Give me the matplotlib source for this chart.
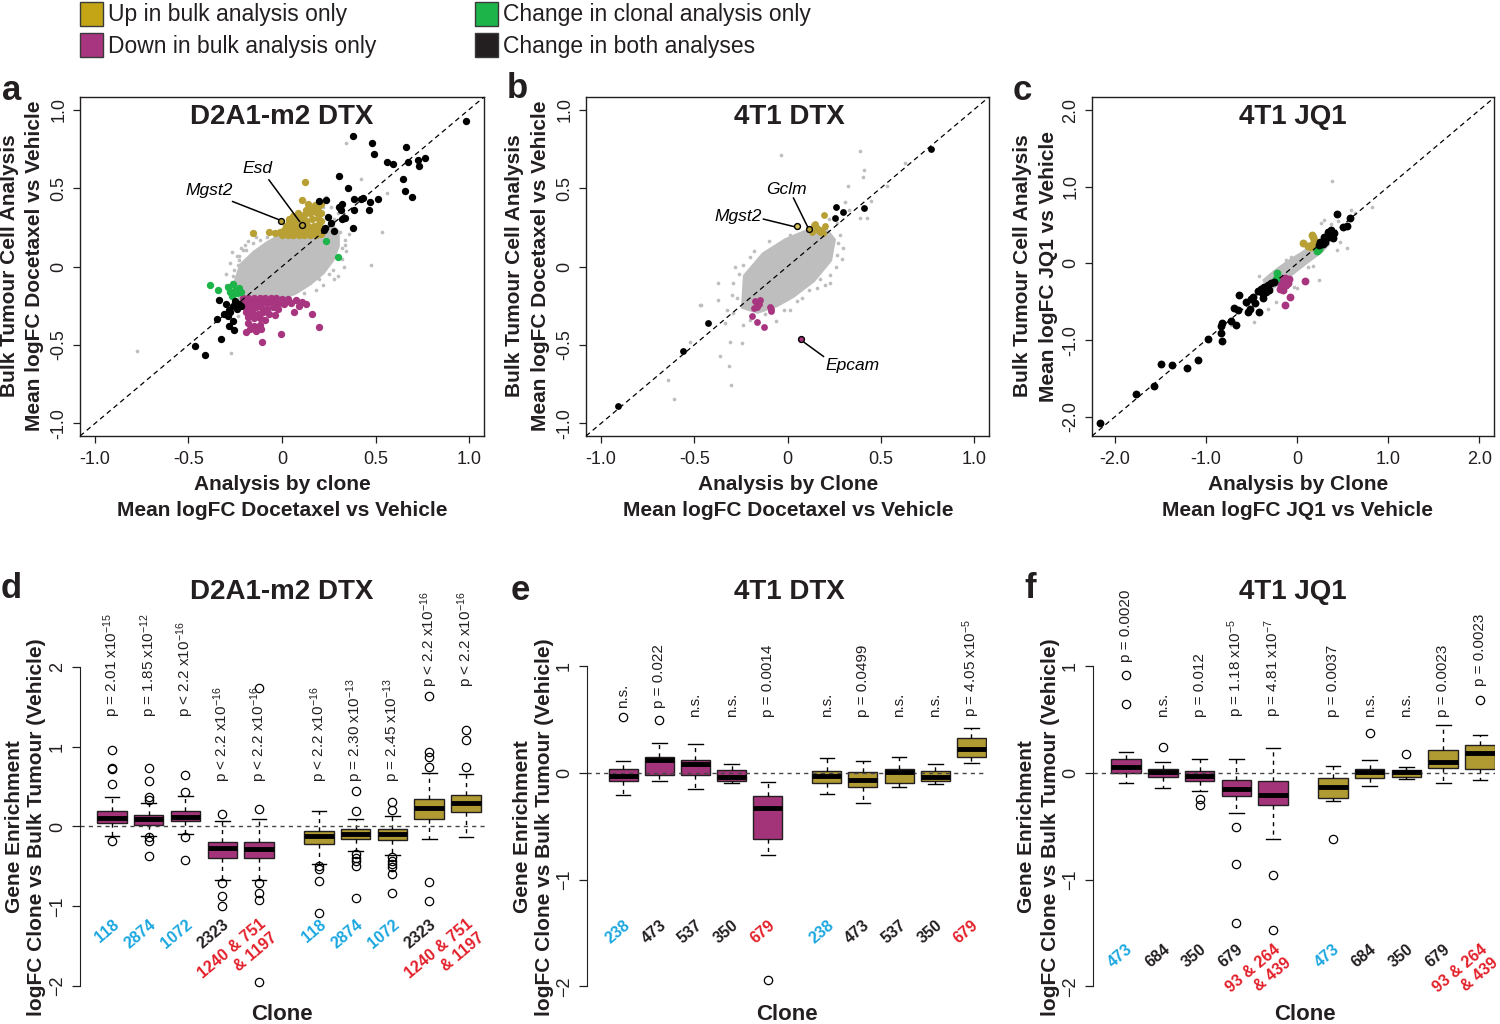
import matplotlib
matplotlib.use("Agg")
import matplotlib.pyplot as plt
from matplotlib.patches import Rectangle, Polygon
from matplotlib import font_manager

plt.rcParams['font.family'] = ['Liberation Sans', 'DejaVu Sans']
plt.rcParams['mathtext.fontset'] = 'custom'
plt.rcParams['mathtext.rm'] = 'Liberation Sans'
plt.rcParams['mathtext.it'] = 'Liberation Sans:italic'
plt.rcParams['mathtext.bf'] = 'Liberation Sans:bold'

# ---------------- data: scatter panels (a, b, c) ----------------
# dense grey core of each cloud (outline) + the scattered grey genes around it
a_core_x = [-0.22, -0.25, -0.22, -0.15, -0.08, -0.02, 0.06, 0.14, 0.21, 0.26, 0.30, 0.30, 0.27, 0.22, 0.15, 0.07, 0.00, -0.10, -0.19]
a_core_y = [-0.22, -0.10, 0.01, 0.09, 0.15, 0.19, 0.20, 0.20, 0.22, 0.27, 0.22, 0.13, 0.04, -0.04, -0.11, -0.17, -0.20, -0.21, -0.22]
a_gray = [(-0.773, -0.541), (-0.272, -0.55), (0.344, 0.786), (0.425, 0.557), (0.559, 0.471), (0.535, 0.217),
          (0.475, 0.01), (0.339, 0.134), (0.30, -0.06), (0.22, 0.38), (0.264, 0.382), (0.237, 0.446),
          (-0.237, -0.318), (-0.228, 0.043), (-0.192, 0.106), (-0.237, 0.01), (-0.174, -0.074), (0.094, -0.085),
          (0.13, -0.042), (0.165, 0.0), (0.058, -0.127), (0.004, -0.159), (-0.228, 0.064), (-0.255, -0.021),
          (-0.21, 0.106), (-0.157, 0.149), (-0.14, 0.19), (0.32, 0.12), (0.335, 0.17), (0.28, 0.30), (0.30, 0.34),
          (0.26, 0.25), (0.31, 0.22), (0.32, 0.05), (0.25, -0.05), (0.20, -0.08), (-0.26, -0.06), (-0.27, -0.10),
          (-0.24, 0.07), (-0.30, -0.05), (0.10, -0.13), (0.15, -0.09), (-0.12, 0.17), (-0.08, 0.19), (0.24, 0.12),
          (-0.20, 0.14), (-0.30, -0.12), (-0.28, 0.02), (-0.18, 0.16), (0.34, 0.10), (0.33, 0.0), (0.28, -0.08),
          (0.22, -0.12), (0.18, -0.15), (0.12, -0.17), (-0.27, 0.09), (-0.22, 0.12), (0.36, 0.21), (0.27, -0.02)]
a_gold = [(0.124, 0.541), (-0.153, 0.213), (-0.07, 0.223), (-0.037, 0.213), (-0.013, 0.221), (0.04, 0.304),
          (0.105, 0.425), (0.14, 0.40), (0.174, 0.393), (0.088, 0.34),
          (0.00, 0.20), (0.03, 0.20), (0.06, 0.20), (0.09, 0.20), (0.12, 0.20), (0.15, 0.20), (0.18, 0.20), (0.21, 0.21),
          (0.01, 0.23), (0.04, 0.23), (0.07, 0.23), (0.10, 0.23), (0.13, 0.23), (0.16, 0.23), (0.19, 0.23), (0.22, 0.24),
          (0.02, 0.26), (0.05, 0.26), (0.08, 0.26), (0.11, 0.27), (0.14, 0.26), (0.17, 0.26), (0.20, 0.27),
          (0.04, 0.29), (0.07, 0.29), (0.10, 0.30), (0.13, 0.29), (0.16, 0.30), (0.19, 0.31), (0.21, 0.29),
          (0.06, 0.32), (0.09, 0.33), (0.12, 0.33), (0.15, 0.34), (0.18, 0.35), (0.16, 0.37), (0.19, 0.38), (0.21, 0.40),
          (0.13, 0.36), (0.21, 0.34)]
a_magenta = [(-0.21, -0.20), (-0.18, -0.20), (-0.15, -0.20), (-0.12, -0.20), (-0.09, -0.20), (-0.06, -0.20),
             (-0.03, -0.20), (0.00, -0.21), (0.03, -0.21),
             (-0.20, -0.23), (-0.17, -0.23), (-0.14, -0.23), (-0.11, -0.23), (-0.08, -0.23), (-0.05, -0.23),
             (-0.02, -0.24), (0.01, -0.24), (0.05, -0.23),
             (-0.20, -0.26), (-0.17, -0.26), (-0.14, -0.26), (-0.11, -0.26), (-0.08, -0.27), (-0.05, -0.26), (-0.02, -0.27),
             (-0.19, -0.29), (-0.16, -0.29), (-0.13, -0.30), (-0.10, -0.29), (-0.07, -0.30), (-0.04, -0.31),
             (-0.18, -0.32), (-0.15, -0.33), (-0.12, -0.33), (-0.09, -0.34),
             (-0.18, -0.36), (-0.15, -0.38), (-0.12, -0.37), (-0.17, -0.40), (-0.14, -0.41), (-0.11, -0.40), (-0.19, -0.42),
             (-0.108, -0.478), (-0.004, -0.43), (0.2, -0.386), (0.16, -0.30), (0.062, -0.29), (0.108, -0.229),
             (0.014, -0.22), (0.076, -0.212), (0.13, -0.238), (0.09, -0.25)]
a_green = [(-0.385, -0.12), (-0.34, -0.15), (-0.29, -0.13), (-0.26, -0.11), (-0.23, -0.14), (-0.24, -0.17),
           (-0.27, -0.19), (-0.22, -0.16), (-0.25, -0.15), (-0.28, -0.16), (0.233, 0.164), (0.30, 0.058)]
a_black = [(0.984, 0.924), (0.38, 0.83), (0.48, 0.79), (0.662, 0.764), (0.49, 0.72), (0.559, 0.669), (0.596, 0.652),
           (0.671, 0.665), (0.725, 0.68), (0.764, 0.694), (0.734, 0.641), (0.648, 0.557), (0.66, 0.478), (0.696, 0.446),
           (0.305, 0.578), (0.355, 0.499), (0.20, 0.417), (0.237, 0.423), (0.323, 0.40), (0.385, 0.429), (0.42, 0.43),
           (0.435, 0.435), (0.469, 0.414), (0.514, 0.429), (0.466, 0.361), (0.387, 0.361), (0.314, 0.361), (0.305, 0.38),
           (0.335, 0.308), (0.323, 0.30), (0.246, 0.318), (0.264, 0.276), (0.224, 0.234), (0.276, 0.227), (0.38, 0.248),
           (0.23, 0.245), (-0.412, -0.562), (-0.464, -0.505), (-0.326, -0.463), (-0.255, -0.403), (-0.282, -0.382),
           (-0.347, -0.335), (-0.29, -0.318), (-0.263, -0.35), (-0.335, -0.212), (-0.30, -0.237), (-0.282, -0.275),
           (-0.25, -0.22), (-0.23, -0.24), (-0.26, -0.25), (-0.24, -0.27), (-0.22, -0.25), (-0.28, -0.29), (-0.31, -0.30)]
a_genes = [("Mgst2", -0.004, 0.291), ("Esd", 0.108, 0.266)]

b_core_x = [-0.24, -0.23, -0.13, -0.01, 0.09, 0.21, 0.25, 0.23, 0.14, 0.03, -0.06, -0.16]
b_core_y = [-0.26, -0.06, 0.08, 0.17, 0.22, 0.23, 0.17, 0.04, -0.09, -0.19, -0.25, -0.29]
b_gray = [(-0.036, 0.711), (0.386, 0.733), (0.411, 0.616), (0.404, 0.573), (0.322, 0.51), (0.426, 0.308),
          (0.386, 0.308), (0.309, 0.414), (0.265, 0.276), (0.265, 0.075), (0.292, 0.047), (0.229, -0.053),
          (0.229, -0.106), (0.113, -0.148), (0.086, -0.106), (0.011, -0.276), (-0.061, -0.35), (-0.239, 0.011),
          (-0.29, -0.102), (-0.37, -0.102), (-0.37, -0.212), (-0.463, -0.244), (-0.325, -0.276), (-0.29, -0.297),
          (-0.334, -0.36), (-0.236, -0.371), (-0.245, -0.488), (-0.307, -0.478), (-0.361, -0.569), (-0.316, -0.632),
          (-0.303, -0.753), (-0.522, -0.478), (-0.638, -0.722), (-0.611, -0.845), (-0.271, -0.201), (-0.2, -0.34),
          (0.014, 0.202), (0.086, 0.22), (0.631, 0.659), (0.533, 0.51), (0.175, -0.08), (-0.02, -0.276),
          (-0.468, -0.244), (-0.28, 0.0), (-0.18, 0.10), (-0.10, 0.16), (0.28, 0.20), (0.30, 0.12), (0.20, -0.12),
          (0.05, -0.22), (-0.12, -0.30), (0.22, 0.30), (0.33, 0.36), (0.45, 0.42), (-0.26, -0.05), (-0.20, 0.06),
          (0.27, 0.15), (0.26, 0.0), (0.16, -0.14), (0.08, -0.20), (-0.30, -0.18)]
b_gold = [(0.198, 0.329), (0.202, 0.259), (0.14, 0.265), (0.158, 0.244), (0.175, 0.217), (0.131, 0.223),
          (0.147, 0.27), (0.18, 0.23), (0.165, 0.235), (0.19, 0.215)]
b_magenta = [(-0.173, -0.223), (-0.147, -0.212), (-0.182, -0.265), (-0.164, -0.255), (-0.093, -0.259),
             (-0.088, -0.286), (-0.191, -0.318), (-0.164, -0.354), (-0.125, -0.388), (-0.164, -0.23),
             (-0.155, -0.24), (-0.09, -0.27)]
b_green = []
b_black = [(-0.906, -0.887), (-0.561, -0.541), (-0.428, -0.357), (0.261, 0.376), (0.30, 0.35), (0.252, 0.308),
           (0.411, 0.372), (0.771, 0.748)]
b_genes = [("Mgst2", 0.05, 0.255), ("Gclm", 0.115, 0.238), ("Epcam", 0.073, -0.463)]

c_core_x = [-0.36, -0.25, -0.10, 0.05, 0.20, 0.30, 0.34, 0.26, 0.11, -0.04, -0.19, -0.31]
c_core_y = [-0.22, -0.11, 0.02, 0.13, 0.25, 0.31, 0.25, 0.15, 0.02, -0.12, -0.26, -0.34]
c_gray = [(0.379, 1.074), (0.592, 0.696), (0.64, 0.66), (0.818, 0.731), (0.475, 0.282), (0.544, 0.196),
          (0.44, 0.17), (0.3, 0.565), (0.26, 0.53), (0.37, 0.51), (0.244, -0.218), (-0.03, -0.305), (0.0, -0.32),
          (-0.23, -0.501), (-0.32, -0.59), (-0.468, -0.762), (-0.723, -0.805), (-0.413, -0.166), (-0.12, 0.043),
          (-0.07, 0.08), (0.06, 0.14), (0.171, -0.035), (0.12, -0.05), (-0.45, -0.40), (-0.40, -0.30),
          (0.42, 0.40), (0.45, 0.55), (0.10, 0.22), (-0.18, -0.05)]
c_gold = [(0.061, 0.269), (0.116, 0.226), (0.15, 0.22), (0.19, 0.261), (0.171, 0.347), (0.19, 0.31),
          (0.16, 0.37), (0.13, 0.23), (0.175, 0.25)]
c_magenta = [(-0.175, -0.218), (-0.132, -0.196), (-0.084, -0.209), (-0.175, -0.283), (-0.12, -0.283),
             (-0.158, -0.34), (-0.19, -0.33), (-0.1, -0.26), (-0.15, -0.25), (0.088, -0.227), (-0.077, -0.436),
             (-0.136, -0.544)]
c_green = [(-0.219, -0.131), (-0.23, -0.2), (0.219, 0.164), (0.24, 0.19)]
c_black = [(-2.167, -2.08), (-1.765, -1.706), (-1.571, -1.602), (-1.49, -1.306), (-1.37, -1.328), (-1.21, -1.363),
           (-1.082, -1.262), (-0.98, -0.979), (-0.822, -1.014), (-0.84, -0.906), (-0.833, -0.819), (-0.826, -0.775),
           (-0.723, -0.749), (-0.668, -0.805), (-0.643, -0.601), (-0.69, -0.58), (-0.632, -0.414), (-0.559, -0.501),
           (-0.52, -0.60), (-0.534, -0.631), (-0.421, -0.631), (-0.504, -0.47), (-0.431, -0.357), (-0.395, -0.327),
           (-0.358, -0.305), (-0.322, -0.283), (-0.377, -0.40), (-0.34, -0.37), (-0.303, -0.348), (-0.285, -0.261),
           (-0.249, -0.24), (-0.377, -0.457), (-0.46, -0.52), (-0.48, -0.44), (0.255, 0.282), (0.299, 0.347),
           (0.336, 0.413), (0.372, 0.43), (0.28, 0.25), (0.409, 0.392), (0.394, 0.33), (0.50, 0.47), (0.545, 0.49),
           (0.584, 0.595), (0.434, 0.643), (0.31, 0.28), (0.35, 0.35), (0.24, 0.24)]

# ---------------- data: box plots (d, e, f) ----------------
d_clones = ["118", "2874", "1072", "2323", "1240 & 751\n& 1197"] * 2
d_clone_cols = ["cyan", "cyan", "cyan", "black", "red"] * 2
d_pvals = ["p = 2.01 x10$^{-15}$", "p = 1.85 x10$^{-12}$", "p < 2.2 x10$^{-16}$", "p < 2.2 x10$^{-16}$",
           "p < 2.2 x10$^{-16}$", "p < 2.2 x10$^{-16}$", "p = 2.30 x10$^{-13}$", "p = 2.45 x10$^{-13}$",
           "p < 2.2 x10$^{-16}$", "p < 2.2 x10$^{-16}$"]
d_med = [0.108, 0.09, 0.125, -0.27, -0.28, -0.125, -0.09, -0.10, 0.233, 0.29]
d_q1 = [0.046, 0.025, 0.067, -0.39, -0.40, -0.22, -0.154, -0.167, 0.096, 0.183]
d_q3 = [0.196, 0.14, 0.196, -0.19, -0.19, -0.054, -0.03, -0.03, 0.34, 0.39]
d_lo = [-0.125, -0.12, -0.09, -0.67, -0.67, -0.47, -0.31, -0.354, -0.16, -0.13]
d_hi = [0.367, 0.30, 0.38, 0.07, 0.09, 0.196, 0.096, 0.13, 0.675, 0.66]
d_fliers = [[0.96, 0.73, 0.72, 0.53, -0.18], [0.73, 0.57, 0.37, 0.33, -0.13, -0.18, -0.37],
            [0.64, 0.43, -0.13, -0.42], [0.16, -0.71, -0.875, -1.0], [1.73, 0.22, -0.71, -0.83, -0.92, -1.95],
            [-0.5, -0.53, -0.68, -1.08], [0.44, 0.2, -0.34, -0.39, -0.43, -0.5, -0.9],
            [0.31, 0.21, -0.38, -0.43, -0.47, -0.51, -0.6, -0.83], [1.63, 0.93, 0.87, 0.74, -0.70, -0.94],
            [1.21, 1.08, 0.75]]

e_clones = ["238", "473", "537", "350", "679"] * 2
e_clone_cols = ["cyan", "black", "black", "black", "red"] * 2
e_pvals = ["n.s.", "p = 0.022", "n.s.", "n.s.", "p = 0.0014", "n.s.", "p = 0.0499", "n.s.", "n.s.",
           "p = 4.05 x10$^{-5}$"]
e_med = [-0.031, 0.119, 0.078, -0.0375, -0.325, -0.031, -0.069, 0.003, -0.0375, 0.222]
e_q1 = [-0.081, -0.019, -0.019, -0.081, -0.62, -0.094, -0.131, -0.1, -0.075, 0.144]
e_q3 = [0.0375, 0.15, 0.119, 0.022, -0.216, 0.016, 0.006, 0.0375, 0.016, 0.322]
e_lo = [-0.2125, -0.081, -0.156, -0.1, -0.77, -0.2, -0.2875, -0.1375, -0.109, 0.09]
e_hi = [0.106, 0.28, 0.27, 0.084, -0.084, 0.1375, 0.109, 0.15, 0.081, 0.416]
e_fliers = [[0.525], [0.49], [], [], [-1.94], [], [], [], [], []]

f_clones = ["473", "684", "350", "679", "93 & 264\n& 439"] * 2
f_clone_cols = ["cyan", "black", "black", "black", "red"] * 2
f_pvals = ["p = 0.0020", "n.s.", "p = 0.012", "p = 1.18 x10$^{-5}$", "p = 4.81 x10$^{-7}$", "p = 0.0037",
           "n.s.", "n.s.", "p = 0.0023", "p = 0.0023"]
f_med = [0.056, 0.009, -0.028, -0.153, -0.209, -0.131, 0.003, 0.003, 0.103, 0.1875]
f_q1 = [0.0, -0.0375, -0.081, -0.219, -0.297, -0.234, -0.053, -0.0375, 0.047, 0.0375]
f_q3 = [0.125, 0.04, 0.0125, -0.069, -0.078, -0.047, 0.031, 0.025, 0.209, 0.256]
f_lo = [-0.1, -0.14, -0.172, -0.381, -0.619, -0.266, -0.119, -0.059, -0.091, -0.069]
f_hi = [0.194, 0.1, 0.131, 0.131, 0.234, 0.0625, 0.119, 0.056, 0.444, 0.35]
f_fliers = [[0.92, 0.64], [0.244], [-0.25, -0.30], [-0.506, -0.85, -1.41], [-0.956, -1.475], [-0.616],
            [0.369], [0.172], [], [0.68]]

# ---------------- styling ----------------
GOLD = '#B8A035'
MAGENTA = '#A8357F'
GREEN = '#1DB44A'
GRAY = '#BEBEBE'
INK = '#231F20'
BOX_GOLD = '#B09A32'
BOX_MAG = '#A43479'
LABEL_COLS = {"cyan": '#1CA7E0', "black": INK, "red": '#E3202A'}

W, H = 1500, 1024
fig = plt.figure(figsize=(W / 100, H / 100), dpi=100)


def add_ax(l, t, r, b):
    return fig.add_axes([l / W, 1 - b / H, (r - l) / W, (b - t) / H])


def ftext(px, py, s, **kw):
    fig.text(px / W, 1 - py / H, s, **kw)


def unzip(pts):
    return [p[0] for p in pts], [p[1] for p in pts]


def scatter_panel(ax, core_x, core_y, gray, gold, magenta, green, black, lim, ticks, ticklabels, s_big):
    ax.add_patch(Polygon(list(zip(core_x, core_y)), closed=True, facecolor=GRAY, edgecolor=GRAY, lw=2.5, zorder=1))
    ax.scatter(*unzip(gray), s=7, color=GRAY, lw=0, zorder=1)
    for pts, col in [(gold, GOLD), (magenta, MAGENTA), (green, GREEN), (black, 'black')]:
        if pts:
            ax.scatter(*unzip(pts), s=s_big, color=col, lw=0, zorder=3)
    ax.plot(lim, lim, color='black', lw=0.9, ls=(0, (4, 3)), zorder=4)
    ax.set_xlim(lim)
    ax.set_ylim(lim)
    ax.set_xticks(ticks)
    ax.set_xticklabels(ticklabels)
    ax.set_yticks(ticks)
    ax.set_yticklabels(ticklabels, rotation=90, va='center')
    ax.tick_params(direction='out', length=5, width=0.9, labelsize=13, pad=4, colors=INK)
    ax.tick_params(axis='x', pad=6)
    for sp in ax.spines.values():
        sp.set_linewidth(1.0)
        sp.set_color(INK)


# panel a
ax_a = add_ax(80, 97, 484, 436)
scatter_panel(ax_a, a_core_x, a_core_y, a_gray, a_gold, a_magenta, a_green, a_black,
              (-1.08, 1.08), [-1, -0.5, 0, 0.5, 1], ['-1.0', '-0.5', '0', '0.5', '1.0'], 28)
for name, gx, gy in a_genes:
    ax_a.scatter([gx], [gy], s=18, facecolor=GOLD, edgecolor='black', lw=1, zorder=5)
ax_a.plot([-0.264, -0.02], [0.414, 0.30], color='black', lw=1.1, zorder=5)
ax_a.text(-0.387, 0.482, "Mgst2", style='italic', fontsize=12.5, ha='center', va='center')
ax_a.plot([-0.07, 0.094], [0.552, 0.287], color='black', lw=1.1, zorder=5)
ax_a.text(-0.13, 0.627, "Esd", style='italic', fontsize=12.5, ha='center', va='center')

# panel b
ax_b = add_ax(586, 97, 989, 436)
scatter_panel(ax_b, b_core_x, b_core_y, b_gray, b_gold, b_magenta, b_green, b_black,
              (-1.08, 1.08), [-1, -0.5, 0, 0.5, 1], ['-1.0', '-0.5', '0', '0.5', '1.0'], 24)
b_fill = {"Mgst2": '#D8C65A', "Gclm": GOLD, "Epcam": MAGENTA}
for name, gx, gy in b_genes:
    ax_b.scatter([gx], [gy], s=18, facecolor=b_fill[name], edgecolor='black', lw=1, zorder=5)
ax_b.plot([-0.129, 0.032], [0.302, 0.255], color='black', lw=1.1, zorder=5)
ax_b.text(-0.263, 0.318, "Mgst2", style='italic', fontsize=12.5, ha='center', va='center')
ax_b.plot([0.032, 0.107], [0.436, 0.255], color='black', lw=1.1, zorder=5)
ax_b.text(-0.007, 0.493, "Gclm", style='italic', fontsize=12.5, ha='center', va='center')
ax_b.plot([0.09, 0.193], [-0.484, -0.573], color='black', lw=1.1, zorder=5)
ax_b.text(0.348, -0.63, "Epcam", style='italic', fontsize=12.5, ha='center', va='center')

# panel c
ax_c = add_ax(1092, 97, 1494, 436)
scatter_panel(ax_c, c_core_x, c_core_y, c_gray, c_gold, c_magenta, c_green, c_black,
              (-2.25, 2.16), [-2, -1, 0, 1, 2], ['-2.0', '-1.0', '0', '1.0', '2.0'], 32)
ax_c.set_ylim(-2.25, 2.17)


def box_panel(ax, med, q1, q3, lo, hi, fliers, pvals, p_base, clones, clone_cols, clone_y, ybounds):
    positions = [1, 2, 3, 4, 5, 6.63, 7.63, 8.63, 9.63, 10.63]
    stats = []
    for i in range(len(med)):
        stats.append(dict(med=med[i], q1=q1[i], q3=q3[i], whislo=lo[i], whishi=hi[i], fliers=fliers[i]))
    ax.axhline(0, color='#444444', lw=1.0, ls=(0, (3, 3)), zorder=2.5)
    bp = ax.bxp(stats, positions=positions, widths=0.8, patch_artist=True, showfliers=True,
                boxprops=dict(edgecolor=INK, lw=1.0),
                medianprops=dict(color='black', lw=3.5, solid_capstyle='butt', zorder=3),
                whiskerprops=dict(color='black', lw=1.0, ls=(0, (3, 3))),
                capprops=dict(color='black', lw=1.0),
                flierprops=dict(marker='o', markerfacecolor='none', markeredgecolor='black', markersize=6,
                                markeredgewidth=0.9),
                capwidths=0.4)
    for i, patch in enumerate(bp['boxes']):
        patch.set_facecolor(BOX_MAG if i < 5 else BOX_GOLD)
        patch.set_zorder(2)
    for i, x in enumerate(positions):
        ax.text(x, p_base[i], pvals[i], rotation=90, rotation_mode='anchor', ha='left', va='center',
                fontsize=11, color=INK, clip_on=False)
        ax.text(x, clone_y, clones[i], rotation=40, rotation_mode='anchor', ha='right', va='top',
                multialignment='right', fontsize=11.5, fontweight='bold', color=LABEL_COLS[clone_cols[i]],
                clip_on=False)
    for side in ['top', 'right', 'bottom']:
        ax.spines[side].set_visible(False)
    ax.spines['left'].set_bounds(*ybounds)
    ax.spines['left'].set_color(INK)
    ax.set_xticks([])
    yt = list(range(ybounds[0], ybounds[1] + 1))
    ax.set_yticks(yt)
    ax.set_yticklabels([str(v).replace('-', '\u2212') for v in yt], rotation=90, va='center')
    ax.tick_params(axis='y', direction='out', length=6, width=0.9, labelsize=13, pad=4, colors=INK)


# panel d
ax_d = add_ax(80, 643, 488, 1006)
ax_d.set_xlim(0.13, 11.23)
ax_d.set_ylim(-2.25, 2.3)
box_panel(ax_d, d_med, d_q1, d_q3, d_lo, d_hi, d_fliers, d_pvals,
          [1.37, 1.37, 1.37, 0.56, 0.56, 0.56, 0.56, 0.56, 1.75, 1.75],
          d_clones, d_clone_cols, -1.13, (-2, 2))

# panel e
ax_e = add_ax(587, 602, 987, 1013)
ax_e.set_xlim(0.0, 11.06)
ax_e.set_ylim(-2.25, 1.6)
box_panel(ax_e, e_med, e_q1, e_q3, e_lo, e_hi, e_fliers, e_pvals,
          [0.61, 0.61, 0.525, 0.525, 0.525, 0.525, 0.525, 0.525, 0.525, 0.525],
          e_clones, e_clone_cols, -1.36, (-2, 1))

# panel f
ax_f = add_ax(1093, 602, 1495, 1013)
ax_f.set_xlim(0.10, 11.04)
ax_f.set_ylim(-2.25, 1.6)
box_panel(ax_f, f_med, f_q1, f_q3, f_lo, f_hi, f_fliers, f_pvals,
          [1.04, 0.525, 0.525, 0.525, 0.525, 0.525, 0.525, 0.525, 0.525, 0.81],
          f_clones, f_clone_cols, -1.58, (-2, 1))

# ---------------- titles, axis labels, panel letters ----------------
bold = dict(fontweight='bold', color=INK, ha='center', va='center')
for cx, t in [(282, "D2A1-m2 DTX"), (789, "4T1 DTX"), (1293, "4T1 JQ1")]:
    ftext(cx, 117, t, fontsize=20, **bold)
for cx, t in [(282, "D2A1-m2 DTX"), (789, "4T1 DTX"), (1293, "4T1 JQ1")]:
    ftext(cx, 592, t, fontsize=20, **bold)

top_xlab = [(282, "Analysis by clone", "Mean logFC Docetaxel vs Vehicle"),
            (788, "Analysis by Clone", "Mean logFC Docetaxel vs Vehicle"),
            (1298, "Analysis by Clone", "Mean logFC JQ1 vs Vehicle")]
for cx, l1, l2 in top_xlab:
    ftext(cx, 485, l1, fontsize=15, **bold)
    ftext(cx, 510, l2, fontsize=15, **bold)

top_ylab = [(10, 35, "Mean logFC Docetaxel vs Vehicle"), (515, 540, "Mean logFC Docetaxel vs Vehicle"),
            (1023, 1048, "Mean logFC JQ1 vs Vehicle")]
for x1, x2, l2 in top_ylab:
    ftext(x1, 266, "Bulk Tumour Cell Analysis", fontsize=15, rotation=90, **bold)
    ftext(x2, 266, l2, fontsize=15, rotation=90, **bold)

for x1, x2 in [(15, 37), (522, 545), (1026, 1050)]:
    ftext(x1, 827, "Gene Enrichment", fontsize=15, rotation=90, **bold)
    ftext(x2, 827, "logFC Clone vs Bulk Tumour (Vehicle)", fontsize=15, rotation=90, **bold)
for cx in [282, 787, 1305]:
    ftext(cx, 1015, "Clone", fontsize=16, **bold)

for lx, ly, letter in [(12, 91, "a"), (517, 89, "b"), (1022, 91, "c"), (11, 588, "d"), (520, 590, "e"),
                       (1030, 588, "f")]:
    ftext(lx, ly, letter, fontsize=25, **bold)

# ---------------- legend ----------------
names = {f.name for f in font_manager.fontManager.ttflist}
if 'Liberation Sans Narrow' in names:
    leg_font, leg_size = 'Liberation Sans Narrow', 20.5
else:
    leg_font, leg_size = 'Liberation Sans', 16.5

legend_items = [(80, 14, GOLD, "Up in bulk analysis only"), (80, 45, MAGENTA, "Down in bulk analysis only"),
                (475, 14, GREEN, "Change in clonal analysis only"), (475, 45, INK, "Change in both analyses")]
leg_cols = {"Up in bulk analysis only": '#C4A516'}
for lx, ly, col, lab in legend_items:
    fig.patches.append(Rectangle((lx / W, 1 - (ly + 12) / H), 23 / W, 24 / H, transform=fig.transFigure,
                                 facecolor=leg_cols.get(lab, col), edgecolor='#3A3A3A', lw=1.0))
    ftext(lx + 28, ly + 1, lab, fontsize=leg_size, family=leg_font, color=INK, ha='left', va='center')

fig.savefig("out.png", dpi=100)
